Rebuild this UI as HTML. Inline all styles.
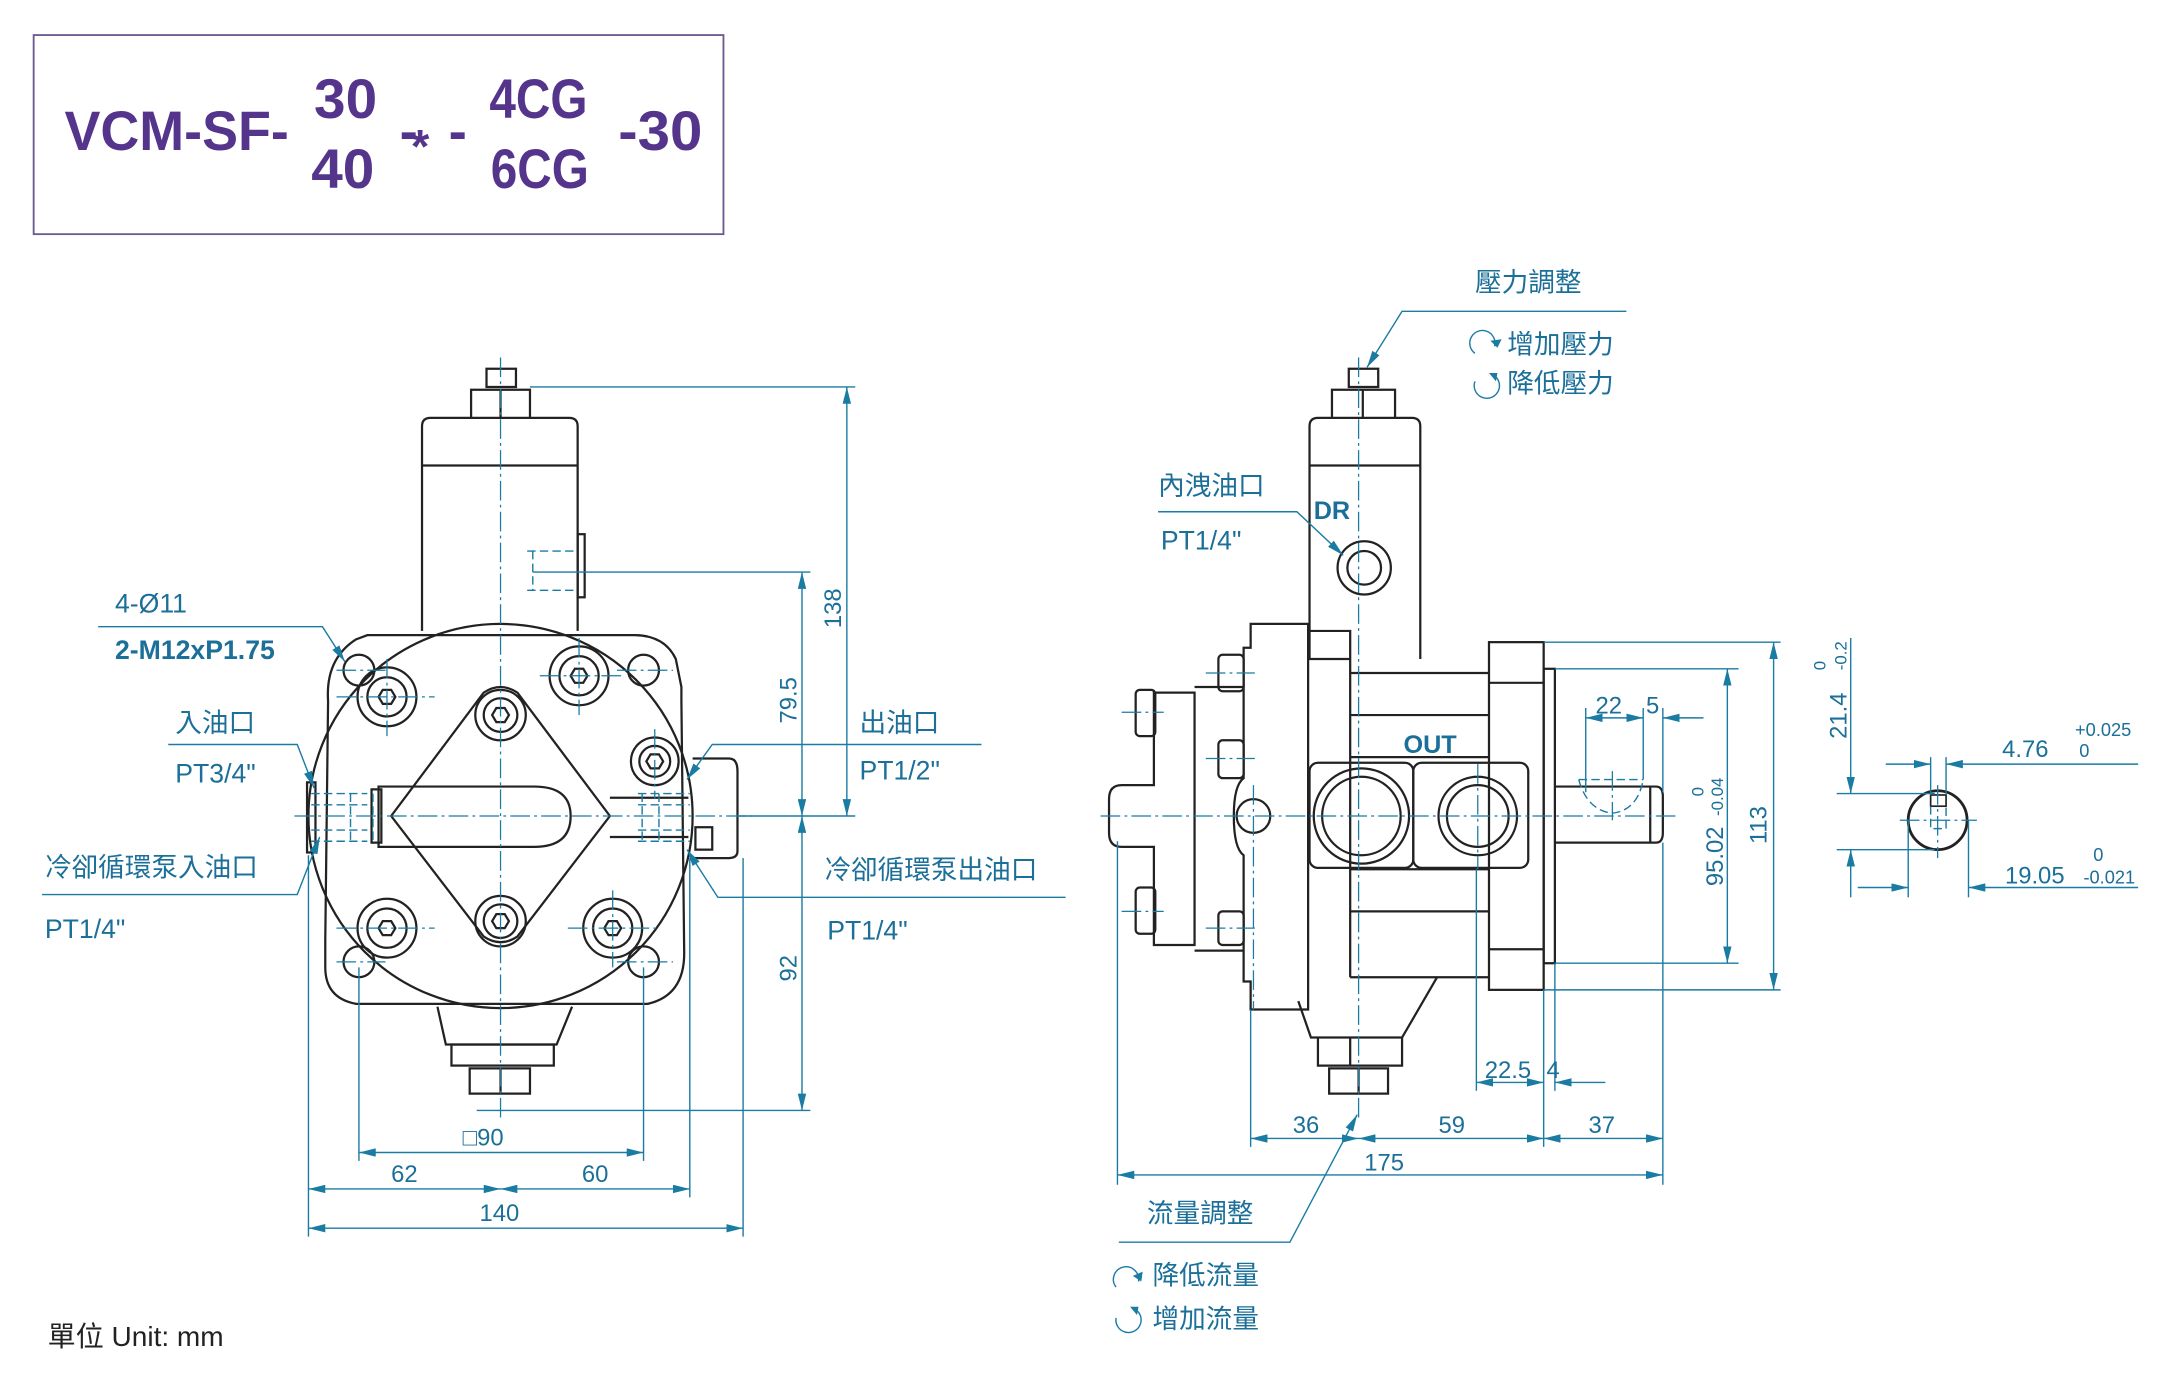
<!DOCTYPE html>
<html><head><meta charset="utf-8"><style>
html,body{margin:0;padding:0;background:#fff;}
svg{display:block;}
.t{font-family:"Liberation Sans","Noto Sans CJK TC",sans-serif;fill:#1b6f99;}
.d{font-family:"Liberation Sans",sans-serif;fill:#1b6f99;font-size:17px;}
.k{fill:none;stroke:#222;stroke-width:1.6;}
.b{fill:none;stroke:#1a7ba3;stroke-width:1;}
.c{fill:none;stroke:#1a7ba3;stroke-width:0.9;stroke-dasharray:14 3 2 3;}
.h{fill:none;stroke:#1a7ba3;stroke-width:1;stroke-dasharray:6 3;}
.a{fill:none;stroke:#1a7ba3;stroke-width:1;marker-end:url(#ar);}
.aa{fill:none;stroke:#1a7ba3;stroke-width:1;marker-end:url(#ar);marker-start:url(#ar);}
</style></head><body>
<svg width="2176" height="1376" viewBox="0 0 1552 981.4" xmlns="http://www.w3.org/2000/svg">
<defs>
<marker id="ar" viewBox="0 0 12 6" refX="12" refY="3" markerWidth="12" markerHeight="6" markerUnits="userSpaceOnUse" orient="auto-start-reverse"><path d="M0,0 L12,3 L0,6 z" fill="#1a7ba3"/></marker>
</defs>

<!-- Title -->
<rect x="24" y="25" width="492" height="142" fill="none" stroke="#6b5a8e" stroke-width="1.3"/>
<g font-family="'Liberation Sans',sans-serif" font-weight="bold" fill="#55358c" font-size="40">
<text x="46" y="107" textLength="160" lengthAdjust="spacingAndGlyphs">VCM-SF-</text>
<text x="224" y="84" textLength="45" lengthAdjust="spacingAndGlyphs">30</text>
<text x="222" y="134" textLength="45" lengthAdjust="spacingAndGlyphs">40</text>
<text x="285" y="107" textLength="13" lengthAdjust="spacingAndGlyphs">-</text>
<text x="293" y="116" font-size="34">*</text>
<text x="320" y="107" textLength="13" lengthAdjust="spacingAndGlyphs">-</text>
<text x="349" y="84" textLength="70" lengthAdjust="spacingAndGlyphs">4CG</text>
<text x="350" y="134" textLength="70" lengthAdjust="spacingAndGlyphs">6CG</text>
<text x="441" y="107" textLength="60" lengthAdjust="spacingAndGlyphs">-30</text>
</g>

<!-- ============ LEFT VIEW ============ -->
<rect x="347" y="263" width="21" height="13" class="k"/>
<path d="M336,298 V278 H378 V298 M357,278 V298" class="k"/>
<path d="M301,450 V304 Q301,298 307,298 H406 Q412,298 412,304 V450" class="k"/>
<line x1="301" y1="332" x2="412" y2="332" class="k"/>
<rect x="412" y="381" width="5" height="45" class="k"/>
<path d="M376,393 H411 M376,421 H411 M380,393 V421" class="h"/>
<path d="M262,453 H452 Q474,453 482,470 L486,490 V500 L488,680 Q488,710 462,716 H254 Q232,712 232,690 V670 L234,500 Q232,470 254,456 Z" class="k"/>
<circle cx="357" cy="582" r="137" class="k" fill="#fff"/>
<circle cx="256" cy="478" r="11" class="k"/><circle cx="459" cy="478" r="11" class="k"/>
<circle cx="256" cy="686" r="11" class="k"/><circle cx="459" cy="686" r="11" class="k"/>
<path d="M345,494 Q357,486 369,494 L435,582 L369,668 Q357,676 345,668 L279,582 Z" class="k"/>
<path d="M270,561 H381 Q407,561 407,582 Q407,604 381,604 H270 Z" class="k" fill="#fff"/>
<rect x="265" y="563" width="7" height="38" class="k"/>
<path d="M435,569 H491 M435,597 H491" class="k"/>
<path d="M494,541 H520 Q526,541 526,550 V607 Q526,612 520,612 H494" class="k"/>
<rect x="496" y="590" width="12" height="16" class="k"/>
<rect x="219" y="558" width="6" height="50" class="k"/>
<g class="k">
<circle cx="276" cy="497" r="21"/><circle cx="276" cy="497" r="14"/>
<circle cx="413" cy="482" r="21"/><circle cx="413" cy="482" r="14"/>
<circle cx="357" cy="510" r="18"/><circle cx="357" cy="510" r="12"/>
<circle cx="357" cy="657" r="18"/><circle cx="357" cy="657" r="12"/>
<circle cx="276" cy="662" r="21"/><circle cx="276" cy="662" r="14"/>
<circle cx="437" cy="662" r="21"/><circle cx="437" cy="662" r="14"/>
<circle cx="467" cy="543" r="17"/><circle cx="467" cy="543" r="11"/>
<path d="M270,497 l3,-5 h6 l3,5 l-3,5 h-6 z M407,482 l3,-5 h6 l3,5 l-3,5 h-6 z M351,510 l3,-5 h6 l3,5 l-3,5 h-6 z M351,657 l3,-5 h6 l3,5 l-3,5 h-6 z M270,662 l3,-5 h6 l3,5 l-3,5 h-6 z M431,662 l3,-5 h6 l3,5 l-3,5 h-6 z M461,543 l3,-5 h6 l3,5 l-3,5 h-6 z"/>
</g>
<path d="M222,566 H262 M222,574 H262 M222,592 H262 M222,600 H262 M250,566 V600 M266,566 V600" class="h"/>
<path d="M455,566 H492 M455,574 H492 M455,592 H492 M455,600 H492 M458,566 V600 M470,566 V600" class="h"/>
<path d="M312,718 L318,745 H397 L408,718" class="k"/>
<rect x="322" y="745" width="73" height="15" class="k"/>
<path d="M335,780 V762 H378 V780 Z M357,762 V780" class="k"/>
<line x1="357" y1="255" x2="357" y2="800" class="c"/>
<line x1="210" y1="582" x2="540" y2="582" class="c"/>
<line x1="240" y1="497" x2="310" y2="497" class="c"/><line x1="385" y1="482" x2="445" y2="482" class="c"/>
<line x1="240" y1="662" x2="310" y2="662" class="c"/><line x1="405" y1="662" x2="470" y2="662" class="c"/>
<line x1="276" y1="470" x2="276" y2="525" class="c"/><line x1="413" y1="455" x2="413" y2="510" class="c"/>
<line x1="437" y1="635" x2="437" y2="690" class="c"/><line x1="467" y1="520" x2="467" y2="570" class="c"/>
<line x1="240" y1="478" x2="275" y2="478" class="c"/><line x1="440" y1="478" x2="480" y2="478" class="c"/>
<line x1="240" y1="686" x2="275" y2="686" class="c"/><line x1="440" y1="686" x2="480" y2="686" class="c"/>
<line x1="378" y1="276" x2="610" y2="276" class="b"/>
<line x1="380" y1="408" x2="578" y2="408" class="b"/>
<line x1="526" y1="582" x2="610" y2="582" class="b"/>
<line x1="340" y1="792" x2="578" y2="792" class="b"/>
<line x1="604" y1="276" x2="604" y2="582" class="aa"/>
<line x1="572" y1="408" x2="572" y2="582" class="aa"/>
<line x1="572" y1="582" x2="572" y2="792" class="aa"/>
<text class="d" transform="translate(600,448) rotate(-90)">138</text>
<text class="d" transform="translate(568,516) rotate(-90)">79.5</text>
<text class="d" transform="translate(568,700) rotate(-90)">92</text>
<line x1="220" y1="610" x2="220" y2="882" class="b"/>
<line x1="256" y1="690" x2="256" y2="828" class="b"/>
<line x1="459" y1="690" x2="459" y2="828" class="b"/>
<line x1="492" y1="612" x2="492" y2="854" class="b"/>
<line x1="530" y1="612" x2="530" y2="882" class="b"/>
<line x1="256" y1="822" x2="459" y2="822" class="aa"/>
<line x1="220" y1="848" x2="357" y2="848" class="aa"/>
<line x1="357" y1="848" x2="492" y2="848" class="aa"/>
<line x1="220" y1="876" x2="530" y2="876" class="aa"/>
<text class="d" x="330" y="817">□90</text>
<text class="d" x="279" y="843">62</text>
<text class="d" x="415" y="843">60</text>
<text class="d" x="342" y="871">140</text>
<text class="t" x="82" y="437" font-size="19">4-Ø11</text>
<text class="t" x="82" y="470" font-size="19" font-weight="bold">2-M12xP1.75</text>
<path d="M70,447 H230 L246,472" class="a"/>
<text class="t" x="125" y="522" font-size="19">入油口</text>
<text class="t" x="125" y="558" font-size="19">PT3/4"</text>
<path d="M120,531 H212 L224,562" class="a"/>
<text class="t" x="32" y="625" font-size="19">冷卻循環泵入油口</text>
<text class="t" x="32" y="669" font-size="19">PT1/4"</text>
<path d="M30,638 H212 L228,597" class="a"/>
<text class="t" x="613" y="522" font-size="19">出油口</text>
<text class="t" x="613" y="556" font-size="19">PT1/2"</text>
<path d="M700,531 H508 L490,556" class="a"/>
<text class="t" x="588" y="627" font-size="19">冷卻循環泵出油口</text>
<text class="t" x="590" y="670" font-size="19">PT1/4"</text>
<path d="M760,640 H512 L490,606" class="a"/>

<!-- ============ RIGHT VIEW ============ -->
<rect x="962" y="263" width="21" height="13" class="k"/>
<path d="M950,298 V278 H995 V298 M972,278 V298" class="k"/>
<path d="M934,470 V304 Q934,298 940,298 H1007 Q1013,298 1013,304 V470" class="k"/>
<line x1="934" y1="332" x2="1013" y2="332" class="k"/>
<circle cx="973" cy="405" r="19" class="k"/><circle cx="973" cy="405" r="12" class="k"/>
<path d="M823,560 V494 H852 V674 H823 V604 H800 Q791,604 791,594 V570 Q791,560 800,560 Z" class="k"/>
<rect x="810" y="492" width="14" height="33" rx="3" class="k"/>
<rect x="810" y="633" width="14" height="33" rx="3" class="k"/>
<rect x="869" y="467" width="18" height="26" rx="3" class="k"/>
<rect x="869" y="528" width="18" height="27" rx="3" class="k"/>
<rect x="869" y="650" width="18" height="24" rx="3" class="k"/>
<path d="M852,490 H887 M852,678 H887" class="k"/>
<path d="M892,445 H933 V720 H892 V700 H887 V610 Q880,605 880,582 Q880,560 887,555 V462 H892 Z" class="k"/>
<circle cx="894" cy="582" r="12" class="k"/>
<path d="M933,450 H963 V480 H1062 M963,480 V697 M963,697 H1062 M963,510 H1062 M963,540 H1062 M963,620 H1062 M963,650 H1062" class="k"/>
<path d="M933,470 H963" class="k"/>
<rect x="1062" y="458" width="39" height="248" class="k"/>
<path d="M1062,487 H1101 M1062,677 H1101" class="k"/>
<rect x="1101" y="477" width="8" height="210" class="k"/>
<path d="M1109,561 H1181 Q1186,561 1186,568 V594 Q1186,601 1181,601 H1109" class="k"/>
<path d="M1177,561 V601" class="k"/>
<path d="M1126,556 H1172 M1126,556 Q1132,578 1150,580 Q1168,578 1172,556" class="h"/>
<rect x="934" y="544" width="74" height="75" rx="6" class="k" fill="#fff"/>
<rect x="1008" y="544" width="82" height="75" rx="6" class="k" fill="#fff"/>
<circle cx="971" cy="582" r="34" class="k"/><circle cx="971" cy="582" r="28" class="k"/>
<circle cx="1054" cy="582" r="28" class="k"/><circle cx="1054" cy="582" r="22" class="k"/>
<text x="1001" y="537" font-family="'Liberation Sans',sans-serif" font-weight="bold" font-size="18" fill="#1b6f99">OUT</text>
<text x="937" y="370" font-family="'Liberation Sans',sans-serif" font-weight="bold" font-size="18" fill="#1b6f99">DR</text>
<path d="M926,714 L935,740 H1000 L1025,697" class="k"/>
<path d="M940,740 V760 H1000 V740 M963,740 V760" class="k"/>
<path d="M948,780 V762 H990 V780 Z M969,762 V780" class="k"/>
<line x1="969" y1="255" x2="969" y2="800" class="c"/>
<line x1="785" y1="582" x2="1195" y2="582" class="c"/>
<line x1="894" y1="560" x2="894" y2="720" class="c"/>
<line x1="1054" y1="545" x2="1054" y2="620" class="c"/>
<line x1="1150" y1="550" x2="1150" y2="585" class="c"/>
<line x1="800" y1="508" x2="830" y2="508" class="c"/><line x1="800" y1="650" x2="830" y2="650" class="c"/>
<line x1="860" y1="480" x2="895" y2="480" class="c"/><line x1="860" y1="541" x2="895" y2="541" class="c"/><line x1="860" y1="662" x2="895" y2="662" class="c"/>
<line x1="1101" y1="458" x2="1270" y2="458" class="b"/>
<line x1="1109" y1="477" x2="1240" y2="477" class="b"/>
<line x1="1109" y1="687" x2="1240" y2="687" class="b"/>
<line x1="1101" y1="706" x2="1270" y2="706" class="b"/>
<line x1="1232" y1="477" x2="1232" y2="687" class="aa"/>
<line x1="1265" y1="458" x2="1265" y2="706" class="aa"/>
<text class="d" transform="translate(1229,632) rotate(-90)">95.02</text>
<text font-family="'Liberation Sans',sans-serif" fill="#1b6f99" font-size="12" transform="translate(1215,568) rotate(-90)">0</text>
<text font-family="'Liberation Sans',sans-serif" fill="#1b6f99" font-size="12" transform="translate(1229,582) rotate(-90)">-0.04</text>
<text class="d" transform="translate(1260,602) rotate(-90)">113</text>
<line x1="1131" y1="505" x2="1131" y2="565" class="b"/>
<line x1="1172" y1="505" x2="1172" y2="556" class="b"/>
<line x1="1186" y1="505" x2="1186" y2="565" class="b"/>
<line x1="1131" y1="512" x2="1172" y2="512" class="aa"/>
<line x1="1215" y1="512" x2="1186" y2="512" class="a"/>
<text class="d" x="1138" y="509">22</text>
<text class="d" x="1174" y="509">5</text>
<line x1="797" y1="600" x2="797" y2="845" class="b"/>
<line x1="892" y1="720" x2="892" y2="818" class="b"/>
<line x1="1053" y1="620" x2="1053" y2="778" class="b"/>
<line x1="1101" y1="706" x2="1101" y2="818" class="b"/>
<line x1="1109" y1="687" x2="1109" y2="778" class="b"/>
<line x1="1186" y1="601" x2="1186" y2="845" class="b"/>
<line x1="1053" y1="772" x2="1101" y2="772" class="aa"/>
<line x1="1145" y1="772" x2="1109" y2="772" class="a"/>
<text class="d" x="1059" y="769">22.5</text><text class="d" x="1103" y="769">4</text>
<line x1="892" y1="812" x2="969" y2="812" class="aa"/>
<line x1="969" y1="812" x2="1101" y2="812" class="aa"/>
<line x1="1101" y1="812" x2="1186" y2="812" class="aa"/>
<line x1="797" y1="838" x2="1186" y2="838" class="aa"/>
<text class="d" x="922" y="808">36</text><text class="d" x="1026" y="808">59</text><text class="d" x="1133" y="808">37</text>
<text class="d" x="973" y="835">175</text>
<text class="t" x="1052" y="208" font-size="19">壓力調整</text>
<path d="M1160,222 H1000 L975,262" class="a"/>
<text class="t" x="1075" y="252" font-size="19">增加壓力</text>
<text class="t" x="1075" y="280" font-size="19">降低壓力</text>
<path d="M1052,252 A9,9 0 1 1 1066,247" class="b" stroke-width="1.6"/><path d="M1063,243 l5,5 l3,-6z" fill="#1a7ba3"/>
<path d="M1066,268 A9,9 0 1 1 1052,272" class="b" stroke-width="1.6"/><path d="M1062,266 l6,0 l-1,6z" fill="#1a7ba3"/>
<text class="t" x="826" y="353" font-size="19">內洩油口</text>
<text class="t" x="828" y="392" font-size="19">PT1/4"</text>
<path d="M826,365 H925 L958,396" class="a"/>
<text class="t" x="818" y="872" font-size="19">流量調整</text>
<path d="M798,886 H920 L968,795" class="a"/>
<text class="t" x="822" y="916" font-size="19">降低流量</text>
<text class="t" x="822" y="947" font-size="19">增加流量</text>
<path d="M796,918 A9,9 0 1 1 812,914" class="b" stroke-width="1.6"/><path d="M808,910 l6,4 l1,-7z" fill="#1a7ba3"/>
<path d="M810,934 A9,9 0 1 1 796,940" class="b" stroke-width="1.6"/><path d="M806,932 l6,0 l-1,6z" fill="#1a7ba3"/>

<!-- shaft section -->
<circle cx="1382" cy="585" r="21" fill="none" stroke="#222" stroke-width="2"/>
<rect x="1377" y="567" width="11" height="8" fill="#fff" stroke="#222" stroke-width="1.2"/>
<path d="M1377,575 V591 H1388 V575" class="h"/>
<line x1="1355" y1="585" x2="1410" y2="585" class="c"/>
<line x1="1382" y1="560" x2="1382" y2="612" class="c"/>
<line x1="1377" y1="540" x2="1377" y2="567" class="b"/>
<line x1="1388" y1="540" x2="1388" y2="567" class="b"/>
<line x1="1345" y1="545" x2="1377" y2="545" class="a"/>
<line x1="1525" y1="545" x2="1388" y2="545" class="a"/>
<text class="d" x="1428" y="540">4.76</text>
<text font-family="'Liberation Sans',sans-serif" fill="#1b6f99" font-size="13" x="1480" y="525">+0.025</text>
<text font-family="'Liberation Sans',sans-serif" fill="#1b6f99" font-size="13" x="1483" y="540">0</text>
<line x1="1361" y1="585" x2="1361" y2="640" class="b"/>
<line x1="1404" y1="585" x2="1404" y2="640" class="b"/>
<line x1="1325" y1="633" x2="1361" y2="633" class="a"/>
<line x1="1525" y1="633" x2="1404" y2="633" class="a"/>
<text class="d" x="1430" y="630">19.05</text>
<text font-family="'Liberation Sans',sans-serif" fill="#1b6f99" font-size="13" x="1493" y="614">0</text>
<text font-family="'Liberation Sans',sans-serif" fill="#1b6f99" font-size="13" x="1486" y="630">-0.021</text>
<line x1="1310" y1="566" x2="1380" y2="566" class="b"/>
<line x1="1310" y1="606" x2="1380" y2="606" class="b"/>
<line x1="1320" y1="455" x2="1320" y2="566" class="a"/>
<line x1="1320" y1="640" x2="1320" y2="606" class="a"/>
<text class="d" transform="translate(1317,527) rotate(-90)">21.4</text>
<text font-family="'Liberation Sans',sans-serif" fill="#1b6f99" font-size="12" transform="translate(1302,478) rotate(-90)">0</text>
<text font-family="'Liberation Sans',sans-serif" fill="#1b6f99" font-size="12" transform="translate(1317,478) rotate(-90)">-0.2</text>

<text x="34" y="960" font-family="'Liberation Sans','Noto Sans CJK TC',sans-serif" font-size="20" fill="#222">單位 Unit: mm</text>
</svg>
</body></html>
